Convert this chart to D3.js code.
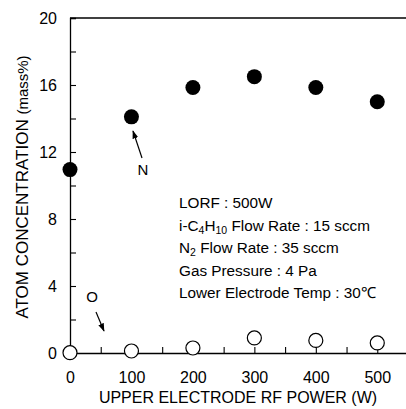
<!DOCTYPE html>
<html><head><meta charset="utf-8">
<script src="https://cdn.jsdelivr.net/npm/d3@7"></script>
<style>body{margin:0;background:#fff}svg{display:block}text{font-family:"Liberation Sans",Arial,sans-serif;fill:#000}</style>
</head><body><svg id="c" width="406" height="409"></svg>
<script>
const powers = [0, 100, 200, 300, 400, 500];
const nitrogen = [10.95, 14.1, 15.85, 16.5, 15.85, 15.0];
const oxygen = [0.02, 0.12, 0.3, 0.9, 0.75, 0.6];
const xTicks = [0, 100, 200, 300, 400, 500];
const yTicks = [0, 4, 8, 12, 16, 20];
const notes = ["LORF : 500W", "i-C<sub>4</sub>H<sub>10</sub> Flow Rate : 15 sccm", "N<sub>2</sub> Flow Rate : 35 sccm", "Gas Pressure : 4 Pa", "Lower Electrode Temp : 30℃"];

const svg = d3.select("#c");
const L = 70, T = 18, B = 353;
const x = d3.scaleLinear().domain([0, 550]).range([L, L + 338]);
const y = d3.scaleLinear().domain([0, 20]).range([B, T]);

svg.append("defs").append("marker").attr("id","ah").attr("viewBox","0 0 10 10")
  .attr("refX",9).attr("refY",5).attr("markerWidth",7).attr("markerHeight",7).attr("orient","auto")
  .append("path").attr("d","M0,1.5L10,5L0,8.5Z").attr("fill","#000");

// axes
const yAxis = d3.axisLeft(y).tickValues(d3.range(0, 21, 2)).tickSize(-6).tickFormat(d => yTicks.includes(d) ? d : "").tickPadding(13);
const gy = svg.append("g").attr("transform", `translate(${L},0)`).call(yAxis);
const xAxis = d3.axisBottom(x).tickValues(d3.range(0, 551, 50)).tickSize(-6).tickFormat(d => xTicks.includes(d) ? d : "").tickPadding(19);
const gx = svg.append("g").attr("transform", `translate(0,${B})`).call(xAxis);
[gx, gy].forEach(g => {
  g.select(".domain").attr("stroke", "#000").attr("stroke-width", 1.3);
  g.selectAll(".tick line").attr("stroke", "#000").attr("stroke-width", 1.1);
  g.selectAll(".tick text").attr("font-size", 16).attr("font-family", "Liberation Sans, Arial, sans-serif").attr("fill", "#000");
  g.selectAll(".tick text").filter(function(){ return this.textContent === ""; }).remove();
});
gy.selectAll(".tick text").attr("dy", "0.36em");
// top frame
svg.append("line").attr("x1", L).attr("x2", 406).attr("y1", y(20)).attr("y2", y(20)).attr("stroke", "#000").attr("stroke-width", 1.3);

// N points
svg.selectAll("circle.n").data(powers).enter().append("circle").attr("class","n")
  .attr("cx", d => x(d)).attr("cy", (d,i) => y(nitrogen[i])).attr("r", 7.5).attr("fill", "#000");
// O points
svg.selectAll("circle.o").data(powers).enter().append("circle").attr("class","o")
  .attr("cx", d => x(d)).attr("cy", (d,i) => y(oxygen[i])).attr("r", 7).attr("fill", "#fff").attr("stroke", "#000").attr("stroke-width", 1.2);

// annotations
svg.append("line").attr("x1", 142).attr("y1", 158).attr("x2", 133).attr("y2", 131).attr("stroke","#000").attr("stroke-width",1.2).attr("marker-end","url(#ah)");
svg.append("text").attr("x", 143).attr("y", 175).attr("text-anchor","middle").attr("font-size", 15).text("N");
svg.append("text").attr("x", 92).attr("y", 302).attr("text-anchor","middle").attr("font-size", 15).text("O");
svg.append("line").attr("x1", 96).attr("y1", 312).attr("x2", 104).attr("y2", 331).attr("stroke","#000").attr("stroke-width",1.2).attr("marker-end","url(#ah)");

// notes
const ng = svg.append("g");
notes.forEach((s, i) => {
  const t = ng.append("text").attr("x", 179).attr("y", 208 + i * 22.5).style("font-size", "15.3px");
  const parts = s.split(/(<sub>.*?<\/sub>)/).filter(p => p);
  let lowered = false;
  parts.forEach(p => {
    const m = p.match(/<sub>(.*?)<\/sub>/);
    if (m) {
      t.append("tspan").style("font-size", "10.5px").attr("dy", lowered ? 0 : 3).text(m[1]);
      lowered = true;
    } else {
      t.append("tspan").attr("dy", lowered ? -3 : 0).text(p);
      lowered = false;
    }
  });
});

// axis titles
svg.append("text").attr("x", 238).attr("y", 403).attr("text-anchor","middle").style("font-size", "16px").text("UPPER ELECTRODE RF POWER (W)");
const yt = svg.append("text").attr("transform", "translate(28,187) rotate(-90)").attr("text-anchor","middle").style("font-size", "17px");
yt.append("tspan").text("ATOM CONCENTRATION ");
yt.append("tspan").style("font-size", "15px").text("(mass%)");
</script></body></html>
